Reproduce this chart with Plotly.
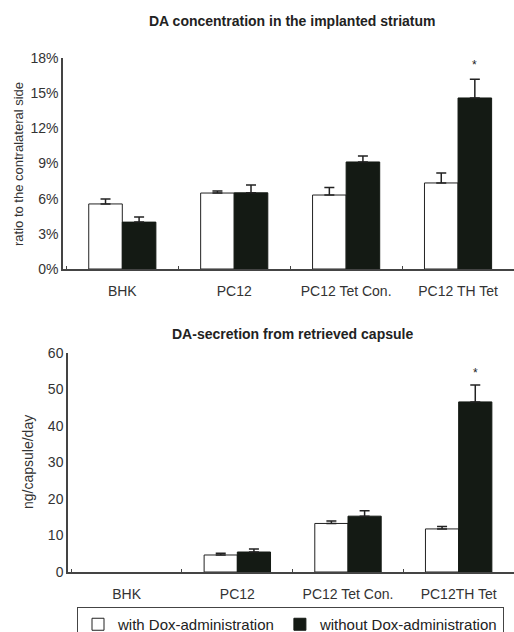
import plotly.graph_objects as go

# ---- data ----
cats_top = ["BHK", "PC12", "PC12 Tet Con.", "PC12 TH Tet"]
with_dox_top = [5.55, 6.48, 6.31, 7.34]
with_dox_top_err = [0.42, 0.17, 0.65, 0.85]
without_dox_top = [4.0, 6.5, 9.13, 14.59]
without_dox_top_err = [0.43, 0.67, 0.51, 1.6]

cats_bot = ["BHK", "PC12", "PC12 Tet Con.", "PC12TH Tet"]
with_dox_bot = [None, 4.66, 13.3, 11.8]
with_dox_bot_err = [None, 0.5, 0.7, 0.7]
without_dox_bot = [None, 5.48, 15.3, 46.6]
without_dox_bot_err = [None, 0.8, 1.5, 4.6]

star_top = 17.4
star_bot = 54.5

y_ticks_top = [0, 3, 6, 9, 12, 15, 18]
y_tick_labels_top = ["0%", "3%", "6%", "9%", "12%", "15%", "18%"]
y_ticks_bot = [0, 10, 20, 30, 40, 50, 60]

legend_names = ["with Dox-administration", "without Dox-administration"]
title_top = "DA concentration in the implanted striatum"
title_bot = "DA-secretion from retrieved capsule"
ytitle_top = "ratio to the contralateral side"
ytitle_bot = "ng/capsule/day"

W, H = 514, 632
FONT = "Liberation Sans, Arial, sans-serif"
TXT = "#333333"
DARK = "#141a14"

fig = go.Figure()

def add_pair(cats, v1, e1, v2, e2, xa, ya, show):
    fig.add_trace(go.Bar(
        x=cats, y=v1, name=legend_names[0], xaxis=xa, yaxis=ya,
        marker=dict(color="white", line=dict(color="#222", width=1)),
        error_y=dict(type="data", symmetric=False, array=e1,
                     arrayminus=[0] * len(e1), color="#222", thickness=1.5, width=5),
        showlegend=show, legendgroup="a", offsetgroup="a"))
    fig.add_trace(go.Bar(
        x=cats, y=v2, name=legend_names[1], xaxis=xa, yaxis=ya,
        marker=dict(color=DARK, line=dict(color=DARK, width=1)),
        error_y=dict(type="data", symmetric=False, array=e2,
                     arrayminus=[0] * len(e2), color="#222", thickness=1.5, width=5),
        showlegend=show, legendgroup="b", offsetgroup="b"))

add_pair(cats_top, with_dox_top, with_dox_top_err, without_dox_top, without_dox_top_err, "x", "y", True)
add_pair(cats_bot, with_dox_bot, with_dox_bot_err, without_dox_bot, without_dox_bot_err, "x2", "y2", False)

def px_x(p):
    return p / W

def px_y(p):
    return (H - p) / H

axis_common = dict(showline=True, linecolor="#444", linewidth=1.5, showgrid=False,
                   zeroline=False, tickfont=dict(family=FONT, size=14, color=TXT))

fig.update_layout(
    width=W, height=H, margin=dict(l=0, r=0, t=0, b=0, autoexpand=False),
    paper_bgcolor="white", plot_bgcolor="white",
    barmode="group", bargap=0.4, bargroupgap=0,
    font=dict(family=FONT, color=TXT),
    xaxis=dict(domain=[px_x(63), 1.0], anchor="y", type="category",
               range=[-0.53, 3.5], ticks="inside", ticklen=3, tickcolor="#444",
               tickson="boundaries", ticklabelstandoff=8, automargin=False, **axis_common),
    yaxis=dict(domain=[px_y(269), px_y(58)], anchor="x", range=[0, 18], automargin=False,
               tickvals=y_ticks_top, ticktext=y_tick_labels_top, ticks="", **axis_common),
    xaxis2=dict(domain=[px_x(68), 1.0], anchor="y2", type="category",
                range=[-0.53, 3.5], ticks="inside", ticklen=3, tickcolor="#444",
                tickson="boundaries", ticklabelstandoff=8, automargin=False, **axis_common),
    yaxis2=dict(domain=[px_y(572), px_y(353)], anchor="x2", range=[0, 60], automargin=False,
                tickvals=y_ticks_bot, ticks="", **axis_common),
    legend=dict(orientation="h", x=px_x(77), xanchor="left", y=px_y(607), yanchor="top",
                bordercolor="#444", borderwidth=1, font=dict(family=FONT, size=15, color="#222"),
                traceorder="normal"),
)

ann = [
    dict(text="<b>" + title_top + "</b>", x=px_x(292), y=px_y(21), xref="paper", yref="paper",
         xanchor="center", yanchor="middle",
         showarrow=False, font=dict(family=FONT, size=14, color="#222")),
    dict(text="<b>" + title_bot + "</b>", x=px_x(292), y=px_y(334), xref="paper", yref="paper",
         xanchor="center", yanchor="middle",
         showarrow=False, font=dict(family=FONT, size=14, color="#222")),
    dict(text=ytitle_top, x=px_x(18), y=px_y(164), xref="paper", yref="paper", textangle=-90,
         xanchor="center", yanchor="middle",
         showarrow=False, font=dict(family=FONT, size=13, color=TXT)),
    dict(text=ytitle_bot, x=px_x(28), y=px_y(462), xref="paper", yref="paper", textangle=-90,
         xanchor="center", yanchor="middle",
         showarrow=False, font=dict(family=FONT, size=14, color=TXT)),
    dict(text="*", x=3.15, y=star_top, xref="x", yref="y", showarrow=False,
         xanchor="center", yanchor="middle",
         font=dict(family=FONT, size=12, color="#222")),
    dict(text="*", x=3.15, y=star_bot, xref="x2", yref="y2", showarrow=False,
         xanchor="center", yanchor="middle",
         font=dict(family=FONT, size=12, color="#222")),
]
fig.update_layout(annotations=ann)

fig.write_html("out.html", config={"displayModeBar": False},
               post_script="document.body.style.margin='0';document.body.style.overflow='hidden';")
